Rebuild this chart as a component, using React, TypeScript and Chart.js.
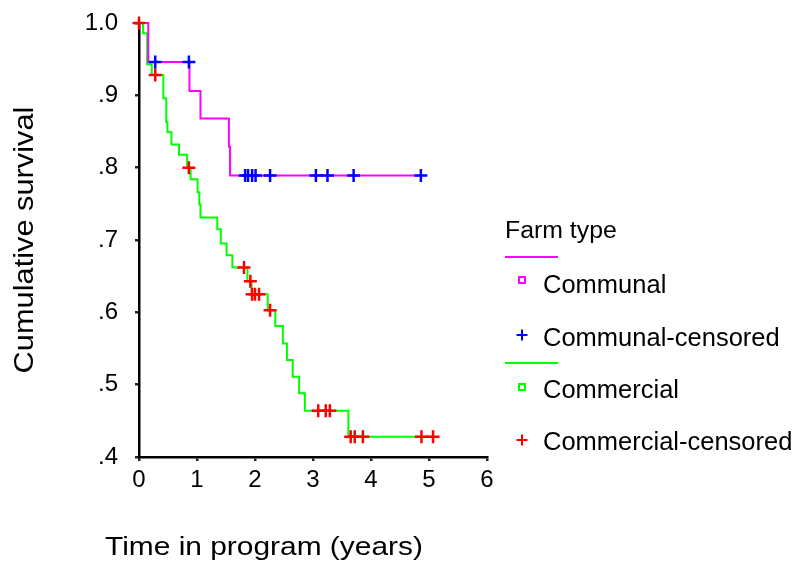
import React, { useEffect, useRef } from "react";
import { Chart, registerables } from "chart.js";

Chart.register(...registerables);

// ---- Data ----
const communalTimes = [0, 0.16, 0.87, 1.06, 1.55, 1.57, 4.86];
const communalSurvival = [1.0, 0.946, 0.906, 0.868, 0.829, 0.789, 0.789];

const communalCensoredTimes = [0.28, 0.86, 1.83, 1.88, 1.95, 2.01, 2.26, 3.05, 3.25, 3.7, 4.86];
const communalCensoredSurvival = [0.946, 0.946, 0.789, 0.789, 0.789, 0.789, 0.789, 0.789, 0.789, 0.789, 0.789];

const commercialTimes = [
  0, 0.07, 0.14, 0.22, 0.42, 0.47, 0.49, 0.56, 0.69, 0.83, 0.89, 1.01, 1.04, 1.06, 1.35, 1.41, 1.51, 1.61,
  1.87, 1.94, 2.22, 2.35, 2.48, 2.55, 2.65, 2.76, 2.86, 3.61, 5.07,
];
const commercialSurvival = [
  1.0, 0.986, 0.943, 0.928, 0.896, 0.863, 0.849, 0.832, 0.818, 0.8, 0.784, 0.766, 0.749, 0.731, 0.715, 0.695,
  0.679, 0.662, 0.643, 0.625, 0.603, 0.581, 0.557, 0.534, 0.511, 0.488, 0.464, 0.428, 0.428,
];

const commercialCensoredTimes = [0, 0.28, 0.86, 1.81, 1.92, 1.95, 2.0, 2.07, 2.26, 3.09, 3.22, 3.29, 3.65, 3.72, 3.86, 4.87, 5.07];
const commercialCensoredSurvival = [
  1.0, 0.928, 0.8, 0.662, 0.643, 0.625, 0.625, 0.625, 0.603, 0.464, 0.464, 0.464, 0.428, 0.428, 0.428, 0.428, 0.428,
];

const xTicks = [0, 1, 2, 3, 4, 5, 6];
const yTicks = [0.4, 0.5, 0.6, 0.7, 0.8, 0.9, 1.0];

const legendTitle = "Farm type";
const legendLabels = ["Communal", "Communal-censored", "Commercial", "Commercial-censored"];
const xTitle = "Time in program (years)";
const yTitle = "Cumulative survival";

const MAGENTA = "#ff00ff";
const BLUE = "#0000ff";
const GREEN = "#00ff00";
const RED = "#ff0000";
const FONT = "'Liberation Sans', Arial, Helvetica, sans-serif";

const toPoints = (xs: number[], ys: number[]) => xs.map((x, i) => ({ x, y: ys[i] }));

function drawStretched(
  ctx: CanvasRenderingContext2D,
  text: string,
  x: number,
  y: number,
  size: number,
  stretch: number,
  rotation = 0,
  align: CanvasTextAlign = "left"
) {
  ctx.save();
  ctx.translate(x, y);
  if (rotation) ctx.rotate(rotation);
  ctx.scale(stretch, 1);
  ctx.font = `${size}px ${FONT}`;
  ctx.textAlign = align;
  ctx.textBaseline = "alphabetic";
  ctx.fillStyle = "#000";
  ctx.fillText(text, 0, 0);
  ctx.restore();
}

const textPlugin = {
  id: "kmText",
  afterDraw(chart: any) {
    const ctx: CanvasRenderingContext2D = chart.ctx;
    const area = chart.chartArea;
    // axis titles
    drawStretched(ctx, yTitle, 33, (area.top + area.bottom) / 2, 27, 1.14, -Math.PI / 2, "center");
    drawStretched(ctx, xTitle, 105, 555, 26, 1.15, 0, "left");

    // legend
    const lx = area.right + 18;
    drawStretched(ctx, legendTitle, lx, 238, 23, 1.08);

    const markerX = lx + 17;
    const textX = lx + 38;
    const lineColors = [MAGENTA, GREEN];
    const lineYs = [257, 363];
    lineYs.forEach((ly, i) => {
      ctx.save();
      ctx.strokeStyle = lineColors[i];
      ctx.lineWidth = 2;
      ctx.beginPath();
      ctx.moveTo(lx, ly);
      ctx.lineTo(lx + 53, ly);
      ctx.stroke();
      ctx.restore();
    });

    const itemYs = [293, 346, 398, 450];
    const markerYs = [280, 335, 387, 440];
    const colors = [MAGENTA, BLUE, GREEN, RED];
    const isSquare = [true, false, true, false];
    itemYs.forEach((iy, i) => {
      ctx.save();
      ctx.strokeStyle = colors[i];
      ctx.lineWidth = 2;
      const my = markerYs[i];
      if (isSquare[i]) {
        ctx.strokeRect(markerX - 3, my - 3, 6, 6);
      } else {
        ctx.beginPath();
        ctx.moveTo(markerX - 5.5, my);
        ctx.lineTo(markerX + 5.5, my);
        ctx.moveTo(markerX, my - 5.5);
        ctx.lineTo(markerX, my + 5.5);
        ctx.stroke();
      }
      ctx.restore();
      drawStretched(ctx, legendLabels[i], textX, iy, 25, 1.02);
    });
  },
};

export default function App() {
  const canvasRef = useRef<HTMLCanvasElement | null>(null);

  useEffect(() => {
    if (!canvasRef.current) return;
    const chart = new Chart(canvasRef.current, {
      type: "line",
      data: {
        datasets: [
          {
            label: legendLabels[1],
            data: toPoints(communalCensoredTimes, communalCensoredSurvival),
            showLine: false,
            pointStyle: "cross",
            pointRadius: 6.5,
            pointBorderWidth: 2.5,
            borderColor: BLUE,
            backgroundColor: BLUE,
            order: 0,
            clip: false,
          } as any,
          {
            label: legendLabels[3],
            data: toPoints(commercialCensoredTimes, commercialCensoredSurvival),
            showLine: false,
            pointStyle: "cross",
            pointRadius: 6.5,
            pointBorderWidth: 2.5,
            borderColor: RED,
            backgroundColor: RED,
            order: 0,
            clip: false,
          } as any,
          {
            label: legendLabels[0],
            data: toPoints(communalTimes, communalSurvival),
            stepped: "before",
            borderColor: MAGENTA,
            borderWidth: 2,
            pointRadius: 0,
            fill: false,
            order: 1,
            clip: false,
          } as any,
          {
            label: legendLabels[2],
            data: toPoints(commercialTimes, commercialSurvival),
            stepped: "before",
            borderColor: GREEN,
            borderWidth: 2,
            pointRadius: 0,
            fill: false,
            order: 1,
            clip: false,
          } as any,
        ],
      },
      options: {
        animation: false,
        responsive: false,
        devicePixelRatio: 1,
        layout: { padding: { left: 0, right: 311, top: 23, bottom: 0 } },
        plugins: { legend: { display: false }, tooltip: { enabled: false } },
        scales: {
          x: {
            type: "linear",
            min: xTicks[0],
            max: xTicks[xTicks.length - 1],
            afterBuildTicks: (scale: any) => {
              scale.ticks = xTicks.map((v) => ({ value: v }));
            },
            afterFit: (scale: any) => {
              scale.height = 106;
              scale.paddingLeft = 0;
              scale.paddingRight = 0;
            },
            ticks: {
              color: "#000",
              font: { family: FONT, size: 24 },
              padding: 5,
              maxRotation: 0,
              callback: (v: any) => String(v),
            },
            grid: { drawOnChartArea: false, drawTicks: true, tickLength: 4, color: "#222", lineWidth: 2.5 },
            border: { display: true, color: "#000", width: 2.5 },
          },
          y: {
            type: "linear",
            min: yTicks[0],
            max: yTicks[yTicks.length - 1],
            afterBuildTicks: (scale: any) => {
              scale.ticks = yTicks.map((v) => ({ value: v }));
            },
            afterFit: (scale: any) => {
              scale.width = 139;
              scale.paddingTop = 0;
              scale.paddingBottom = 0;
            },
            ticks: {
              color: "#000",
              font: { family: FONT, size: 24 },
              padding: 17,
              callback: (v: any) => {
                const n = Math.round(Number(v) * 10);
                return n === 10 ? "1.0" : "." + n;
              },
            },
            grid: { drawOnChartArea: false, drawTicks: true, tickLength: 4, color: "#222", lineWidth: 2.5 },
            border: { display: true, color: "#000", width: 2.5 },
          },
        },
      } as any,
      plugins: [textPlugin],
    });
    return () => chart.destroy();
  }, []);

  return (
    <div style={{ position: "absolute", left: 0, top: 0, width: 798, height: 563, background: "#fff" }}>
      <canvas ref={canvasRef} width={798} height={563} />
    </div>
  );
}
